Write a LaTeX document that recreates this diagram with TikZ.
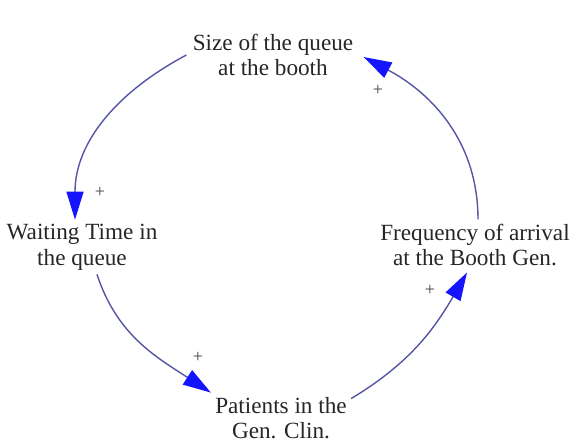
\documentclass[tikz,border=0pt]{standalone}
\usepackage{fontspec}
\setmainfont{Liberation Serif}
\usetikzlibrary{arrows.meta}
\definecolor{linkline}{RGB}{85,85,165}
\definecolor{tipblue}{RGB}{20,20,255}
\begin{document}
\begin{tikzpicture}[x=0.5pt,y=0.5pt,
  var/.style={align=center,font=\fontsize{11.6}{12.8}\selectfont,text=black!85,inner sep=2pt},
  link/.style={draw=linkline,line width=0.7pt,-{Triangle[length=14pt,width=8.5pt,color=tipblue]}},
  pol/.style={font=\fontsize{9}{9}\selectfont,text=black!75,inner sep=0pt}]
\useasboundingbox (0,0) rectangle (580,445);
\node[var] (Q) at (273,390) {Size of the queue\\at the booth};
\node[var] (W) at (82,198) {Waiting Time in\\the queue};
\node[var] (F) at (475,200) {Frequency of arrival\\at the Booth Gen.};
\node[var] (P) at (281,27) {Patients in the\\Gen. Clin.};

\draw[link] ([xshift=-1pt]Q.west) to[out=208,in=90] ([xshift=-3.5pt]W.north);
\draw[link] ([xshift=7.5pt]W.south) to[out=-72,in=147] (P.north west);
\draw[link] ([yshift=-3pt]P.north east) to[out=31,in=240] ([xshift=-4pt,yshift=-1pt]F.south);
\draw[link] ([xshift=1.5pt]F.north) to[out=90,in=-28] ([xshift=3pt,yshift=-1pt]Q.east);

\node[pol] (s1) at (100,253) {+};
\node[pol] (s2) at (198,88) {+};
\node[pol] (s3) at (430,155) {+};
\node[pol] (s4) at (378,355) {+};
\end{tikzpicture}
\end{document}
